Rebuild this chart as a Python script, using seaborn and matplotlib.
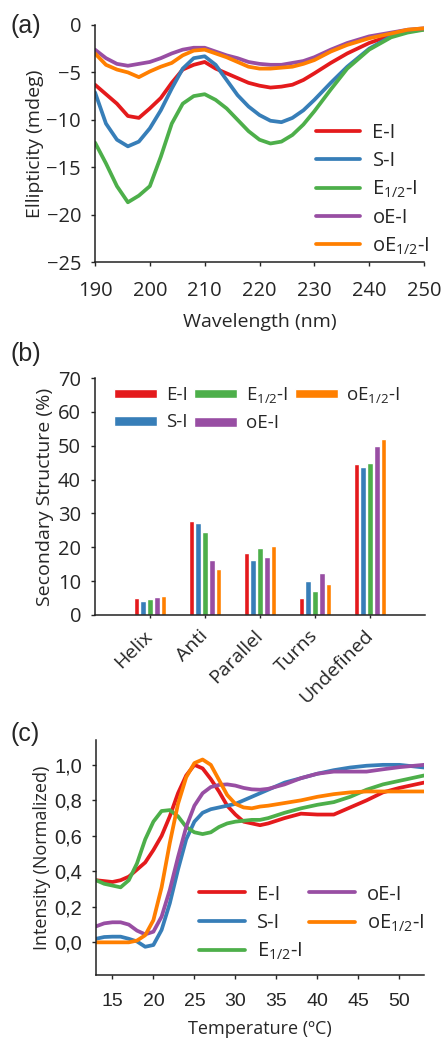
import numpy as np
import pandas as pd
import matplotlib
matplotlib.use("Agg")
import matplotlib.pyplot as plt
import seaborn as sns

# ---------------- data ----------------
series = ["E-I", "S-I", "E1/2-I", "oE-I", "oE1/2-I"]
labels = ["E-I", "S-I", r"E$\mathregular{_{1/2}}$-I", "oE-I", r"oE$\mathregular{_{1/2}}$-I"]
colors = ["#e41a1c", "#377eb8", "#4daf4a", "#984ea3", "#ff7f00"]

# (a) CD spectra
wavelength = [190, 192, 194, 196, 198, 200, 202, 204, 206, 208, 210, 212, 214, 216,
              218, 220, 222, 224, 226, 228, 230, 233, 236, 240, 244, 247, 250]
cd_EI = [-6.3, -7.3, -8.3, -9.6, -9.8, -8.8, -7.7, -6.1, -4.7, -4.2, -3.9, -4.6, -5.1, -5.6,
         -6.1, -6.4, -6.6, -6.5, -6.3, -5.8, -5.1, -4.0, -3.0, -1.9, -1.1, -0.6, -0.45]
cd_SI = [-7.1, -10.4, -12.1, -12.8, -12.3, -10.9, -9.0, -6.7, -4.6, -3.5, -3.3, -4.2, -5.8, -7.4,
         -8.6, -9.5, -10.1, -10.25, -9.8, -9.0, -7.9, -6.1, -4.4, -2.5, -1.2, -0.7, -0.45]
cd_E12I = [-12.4, -14.6, -17.0, -18.7, -18.0, -17.0, -13.9, -10.4, -8.3, -7.5, -7.3, -7.9, -8.8, -10.0,
           -11.2, -12.1, -12.5, -12.3, -11.6, -10.5, -9.1, -6.8, -4.6, -2.6, -1.3, -0.8, -0.5]
cd_oEI = [-2.6, -3.5, -4.1, -4.3, -4.1, -3.9, -3.5, -3.0, -2.6, -2.4, -2.4, -2.8, -3.2, -3.5,
          -3.9, -4.1, -4.2, -4.2, -4.0, -3.8, -3.4, -2.6, -1.9, -1.2, -0.8, -0.5, -0.35]
cd_oE12I = [-3.0, -4.2, -4.7, -5.0, -5.5, -4.9, -4.4, -4.0, -3.2, -2.7, -2.6, -3.0, -3.4, -3.9,
            -4.4, -4.6, -4.6, -4.5, -4.4, -4.1, -3.7, -2.8, -2.1, -1.4, -0.9, -0.5, -0.35]

# (b) secondary structure
structures = ["Helix", "Anti", "Parallel", "Turns", "Undefined"]
ss_EI = [4.9, 27.8, 18.3, 5.0, 44.7]
ss_SI = [4.1, 27.1, 16.1, 10.1, 43.8]
ss_E12I = [4.6, 24.6, 19.8, 7.1, 45.0]
ss_oEI = [5.3, 16.3, 17.2, 12.3, 50.0]
ss_oE12I = [5.6, 13.6, 20.4, 9.2, 52.1]

# (c) thermal intensity
temperature = [13, 14, 15, 16, 17, 18, 19, 20, 21, 22, 23, 24, 25, 26, 27, 28, 29, 30,
               31, 32, 33, 34, 36, 38, 40, 42, 44, 46, 48, 50, 53]
in_EI = [0.35, 0.345, 0.34, 0.35, 0.37, 0.41, 0.45, 0.52, 0.60, 0.71, 0.84, 0.94, 1.00, 0.98,
         0.92, 0.85, 0.77, 0.72, 0.68, 0.67, 0.66, 0.67, 0.70, 0.725, 0.72, 0.72, 0.76, 0.80,
         0.845, 0.87, 0.90]
in_SI = [0.02, 0.03, 0.032, 0.032, 0.02, 0.005, -0.025, -0.015, 0.07, 0.22, 0.41, 0.58, 0.68,
         0.73, 0.75, 0.76, 0.77, 0.78, 0.80, 0.82, 0.84, 0.86, 0.90, 0.925, 0.95, 0.97, 0.985,
         0.995, 1.0, 1.0, 0.985]
in_E12I = [0.35, 0.33, 0.32, 0.31, 0.35, 0.445, 0.58, 0.68, 0.74, 0.745, 0.71, 0.65, 0.62, 0.61,
           0.62, 0.65, 0.67, 0.68, 0.685, 0.69, 0.69, 0.70, 0.73, 0.755, 0.775, 0.79, 0.82, 0.86,
           0.89, 0.91, 0.94]
in_oEI = [0.09, 0.107, 0.113, 0.113, 0.10, 0.066, 0.045, 0.06, 0.145, 0.295, 0.48, 0.65, 0.77,
          0.84, 0.875, 0.887, 0.89, 0.883, 0.87, 0.862, 0.86, 0.865, 0.89, 0.925, 0.95, 0.962,
          0.962, 0.962, 0.975, 0.987, 1.0]
in_oE12I = [0.0, 0.0, 0.0, 0.0, 0.0, 0.01, 0.04, 0.125, 0.31, 0.56, 0.78, 0.93, 1.01, 1.03, 1.0,
            0.915, 0.83, 0.78, 0.76, 0.755, 0.765, 0.77, 0.785, 0.80, 0.82, 0.835, 0.845, 0.85,
            0.85, 0.85, 0.85]

# ---------------- frames ----------------
def long_frame(x, ys, xname, yname):
    rows = []
    for s, y in zip(series, ys):
        for xi, yi in zip(x, y):
            rows.append({xname: xi, yname: yi, "series": s})
    return pd.DataFrame(rows)

df_a = long_frame(wavelength, [cd_EI, cd_SI, cd_E12I, cd_oEI, cd_oE12I], "wl", "cd")
df_c = long_frame(temperature, [in_EI, in_SI, in_E12I, in_oEI, in_oE12I], "t", "inten")
rows = []
for s, vals in zip(series, [ss_EI, ss_SI, ss_E12I, ss_oEI, ss_oE12I]):
    for c, v in zip(structures, vals):
        rows.append({"structure": c, "pct": v, "series": s})
df_b = pd.DataFrame(rows)

palette = dict(zip(series, colors))

# ---------------- style ----------------
sns.set_style("ticks")
plt.rcParams["font.family"] = ["Open Sans", "DejaVu Sans"]
plt.rcParams["axes.edgecolor"] = "#222222"
plt.rcParams["axes.linewidth"] = 1.1
plt.rcParams["xtick.major.size"] = 3
plt.rcParams["ytick.major.size"] = 3
plt.rcParams["xtick.major.width"] = 1.0
plt.rcParams["ytick.major.width"] = 1.0

fig = plt.figure(figsize=(4.41, 10.41), dpi=100)
W, H = 441.0, 1041.0

def axes_px(l, r, t, b):
    return fig.add_axes([l / W, 1 - b / H, (r - l) / W, (b - t) / H])

ax1 = axes_px(95, 424, 25, 262)
ax2 = axes_px(95, 425, 378, 615)
ax3 = axes_px(96, 424, 740, 975)

FS = 14.5
LS = 14
LW = 2.7
ARIAL = ["Liberation Sans", "DejaVu Sans"]

# ---- (a)
sns.lineplot(data=df_a, x="wl", y="cd", hue="series", hue_order=series, palette=palette,
             linewidth=LW, ax=ax1, legend=True)
ax1.set_xlim(190, 250)
ax1.set_ylim(-25, 0)
ax1.set_xticks(range(190, 251, 10))
ax1.set_yticks(range(-25, 1, 5))
ax1.tick_params(labelsize=FS)
ax1.tick_params(axis="x", pad=11)
ax1.tick_params(axis="y", pad=7)
ax1.set_xlabel("Wavelength (nm)", fontsize=LS, labelpad=8)
ax1.set_ylabel("Ellipticity (mdeg)", fontsize=LS, labelpad=2)
h, _ = ax1.get_legend_handles_labels()
ax1.legend(h, labels, loc="upper left", bbox_to_anchor=(0.672, 0.585), frameon=False,
           fontsize=FS, handlelength=2.2, handletextpad=0.6, labelspacing=0.38,
           borderaxespad=0, borderpad=0)
sns.despine(ax=ax1)

# ---- (b)
sns.barplot(data=df_b, x="structure", y="pct", hue="series", hue_order=series,
            order=structures, palette=palette, width=0.62, gap=0.2, ax=ax2,
            saturation=1, legend=True)
ax2.set_xlim(-1, 5)
ax2.set_ylim(0, 70)
ax2.set_yticks(range(0, 71, 10))
ax2.tick_params(labelsize=FS)
ax2.tick_params(axis="y", pad=7)
ax2.tick_params(axis="x", length=2, pad=11, labelsize=14)
for lab in ax2.get_xticklabels():
    lab.set_rotation(45)
    lab.set_ha("right")
    lab.set_va("center")
    lab.set_rotation_mode("anchor")
ax2.set_xlabel("")
ax2.set_ylabel("Secondary Structure (%)", fontsize=LS, labelpad=3)
h, _ = ax2.get_legend_handles_labels()
ax2.legend(h, labels, ncol=3, loc="upper left", bbox_to_anchor=(0.058, 0.97), frameon=False,
           fontsize=13.5, handlelength=2.3, handleheight=0.4, handletextpad=0.45,
           columnspacing=0.35, labelspacing=0.5, borderaxespad=0, borderpad=0)
sns.despine(ax=ax2)

# ---- (c)
sns.lineplot(data=df_c, x="t", y="inten", hue="series", hue_order=series, palette=palette,
             linewidth=LW, ax=ax3, legend=True)
ax3.set_xlim(13, 53)
ax3.set_ylim(-0.184, 1.14)
ax3.set_xticks(range(15, 51, 5))
ax3.set_xticklabels([str(v) for v in range(15, 51, 5)], family=ARIAL)
ax3.set_yticks([0, 0.2, 0.4, 0.6, 0.8, 1.0])
ax3.set_yticklabels(["0,0", "0,2", "0,4", "0,6", "0,8", "1,0"], family=ARIAL)
ax3.tick_params(axis="x", labelsize=14, pad=10)
ax3.tick_params(axis="y", labelsize=14.5, pad=7)
ax3.set_xlabel("Temperature (\u00baC)", fontsize=13, labelpad=7)
ax3.set_ylabel("Intensity (Normalized)", fontsize=13, labelpad=2)
h, _ = ax3.get_legend_handles_labels()
ax3.legend(h, labels, ncol=2, loc="upper left", bbox_to_anchor=(0.314, 0.385), frameon=False,
           fontsize=FS, handlelength=2.3, handletextpad=0.6, columnspacing=0.3,
           labelspacing=0.4, borderaxespad=0, borderpad=0)
sns.despine(ax=ax3)

# panel letters
for txt, y in [("(a)", 26), ("(b)", 354), ("(c)", 734)]:
    fig.text(10 / W, 1 - y / H, txt, fontsize=18, family=ARIAL, va="center", ha="left")

fig.savefig("out.png", dpi=100)
